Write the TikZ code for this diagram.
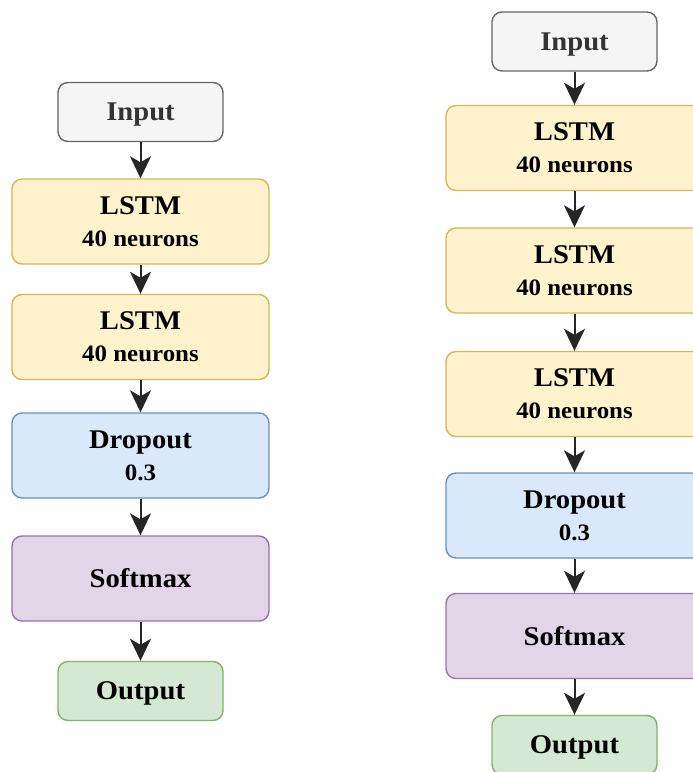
\documentclass[tikz,border=0pt]{standalone}
\usepackage{fontspec}
\setmainfont{Liberation Serif}[FakeStretch=1.06]
\usetikzlibrary{arrows.meta}

\definecolor{grayfill}{HTML}{F5F5F5}
\definecolor{graydraw}{HTML}{666666}
\definecolor{yelfill}{HTML}{FFF2CC}
\definecolor{yeldraw}{HTML}{D6B656}
\definecolor{bluefill}{HTML}{DAE8FC}
\definecolor{bluedraw}{HTML}{6C8EBF}
\definecolor{purpfill}{HTML}{E1D5E7}
\definecolor{purpdraw}{HTML}{9673A6}
\definecolor{grnfill}{HTML}{D5E8D4}
\definecolor{grndraw}{HTML}{82B366}

\tikzset{
  layer/.style={rounded corners=10bp, line width=1.4bp, inner sep=0pt,
    align=center, font=\fontsize{27bp}{32bp}\selectfont\bfseries},
  wide/.style={layer, minimum width=257bp, minimum height=85bp},
  narrow/.style={layer, minimum width=165bp, minimum height=59bp, text depth=0bp},
  inbox/.style={narrow, fill=grayfill, draw=graydraw, text=black!80},
  lstmbox/.style={wide, fill=yelfill, draw=yeldraw},
  dropbox/.style={wide, fill=bluefill, draw=bluedraw},
  softbox/.style={wide, fill=purpfill, draw=purpdraw},
  outbox/.style={narrow, fill=grnfill, draw=grndraw},
  flow/.style={line width=2bp, black!85,
    -{Stealth[width=21bp,length=22bp,inset=6bp]}},
}
\newcommand{\sub}[1]{{\fontsize{23.5bp}{32bp}\selectfont #1}}

\begin{document}
\begin{tikzpicture}[x=1bp, y=-1bp]
  \useasboundingbox (0,0) rectangle (693,772);
  \fill[white] (0,0) rectangle (693,772);
  \clip (0,0) rectangle (693,772);

  % left network: two LSTM layers
  \node[inbox]   (aIn)  at (140.5,112)   {Input};
  \node[lstmbox] (aL1)  at (140.5,221.5) {LSTM\\\sub{40 neurons}};
  \node[lstmbox] (aL2)  at (140.5,337)   {LSTM\\\sub{40 neurons}};
  \node[dropbox] (aDr)  at (140.5,455.5) {Dropout\\\sub{0.3}};
  \node[softbox] (aSm)  at (140.5,578.5) {Softmax};
  \node[outbox]  (aOut) at (140.5,691)   {Output};

  \draw[flow] (aIn.south) -- (aL1.north);
  \draw[flow] (aL1.south) -- (aL2.north);
  \draw[flow] (aL2.south) -- (aDr.north);
  \draw[flow] (aDr.south) -- (aSm.north);
  \draw[flow] (aSm.south) -- (aOut.north);

  % right network: three LSTM layers
  \node[inbox]   (bIn)  at (574.5,41.5)  {Input};
  \node[lstmbox] (bL1)  at (574.5,148)   {LSTM\\\sub{40 neurons}};
  \node[lstmbox] (bL2)  at (574.5,270.5) {LSTM\\\sub{40 neurons}};
  \node[lstmbox] (bL3)  at (574.5,394)   {LSTM\\\sub{40 neurons}};
  \node[dropbox] (bDr)  at (574.5,515.5) {Dropout\\\sub{0.3}};
  \node[softbox] (bSm)  at (574.5,636)   {Softmax};
  \node[outbox]  (bOut) at (574.5,745)   {Output};

  \draw[flow] (bIn.south) -- (bL1.north);
  \draw[flow] (bL1.south) -- (bL2.north);
  \draw[flow] (bL2.south) -- (bL3.north);
  \draw[flow] (bL3.south) -- (bDr.north);
  \draw[flow] (bDr.south) -- (bSm.north);
  \draw[flow] (bSm.south) -- (bOut.north);
\end{tikzpicture}
\end{document}
